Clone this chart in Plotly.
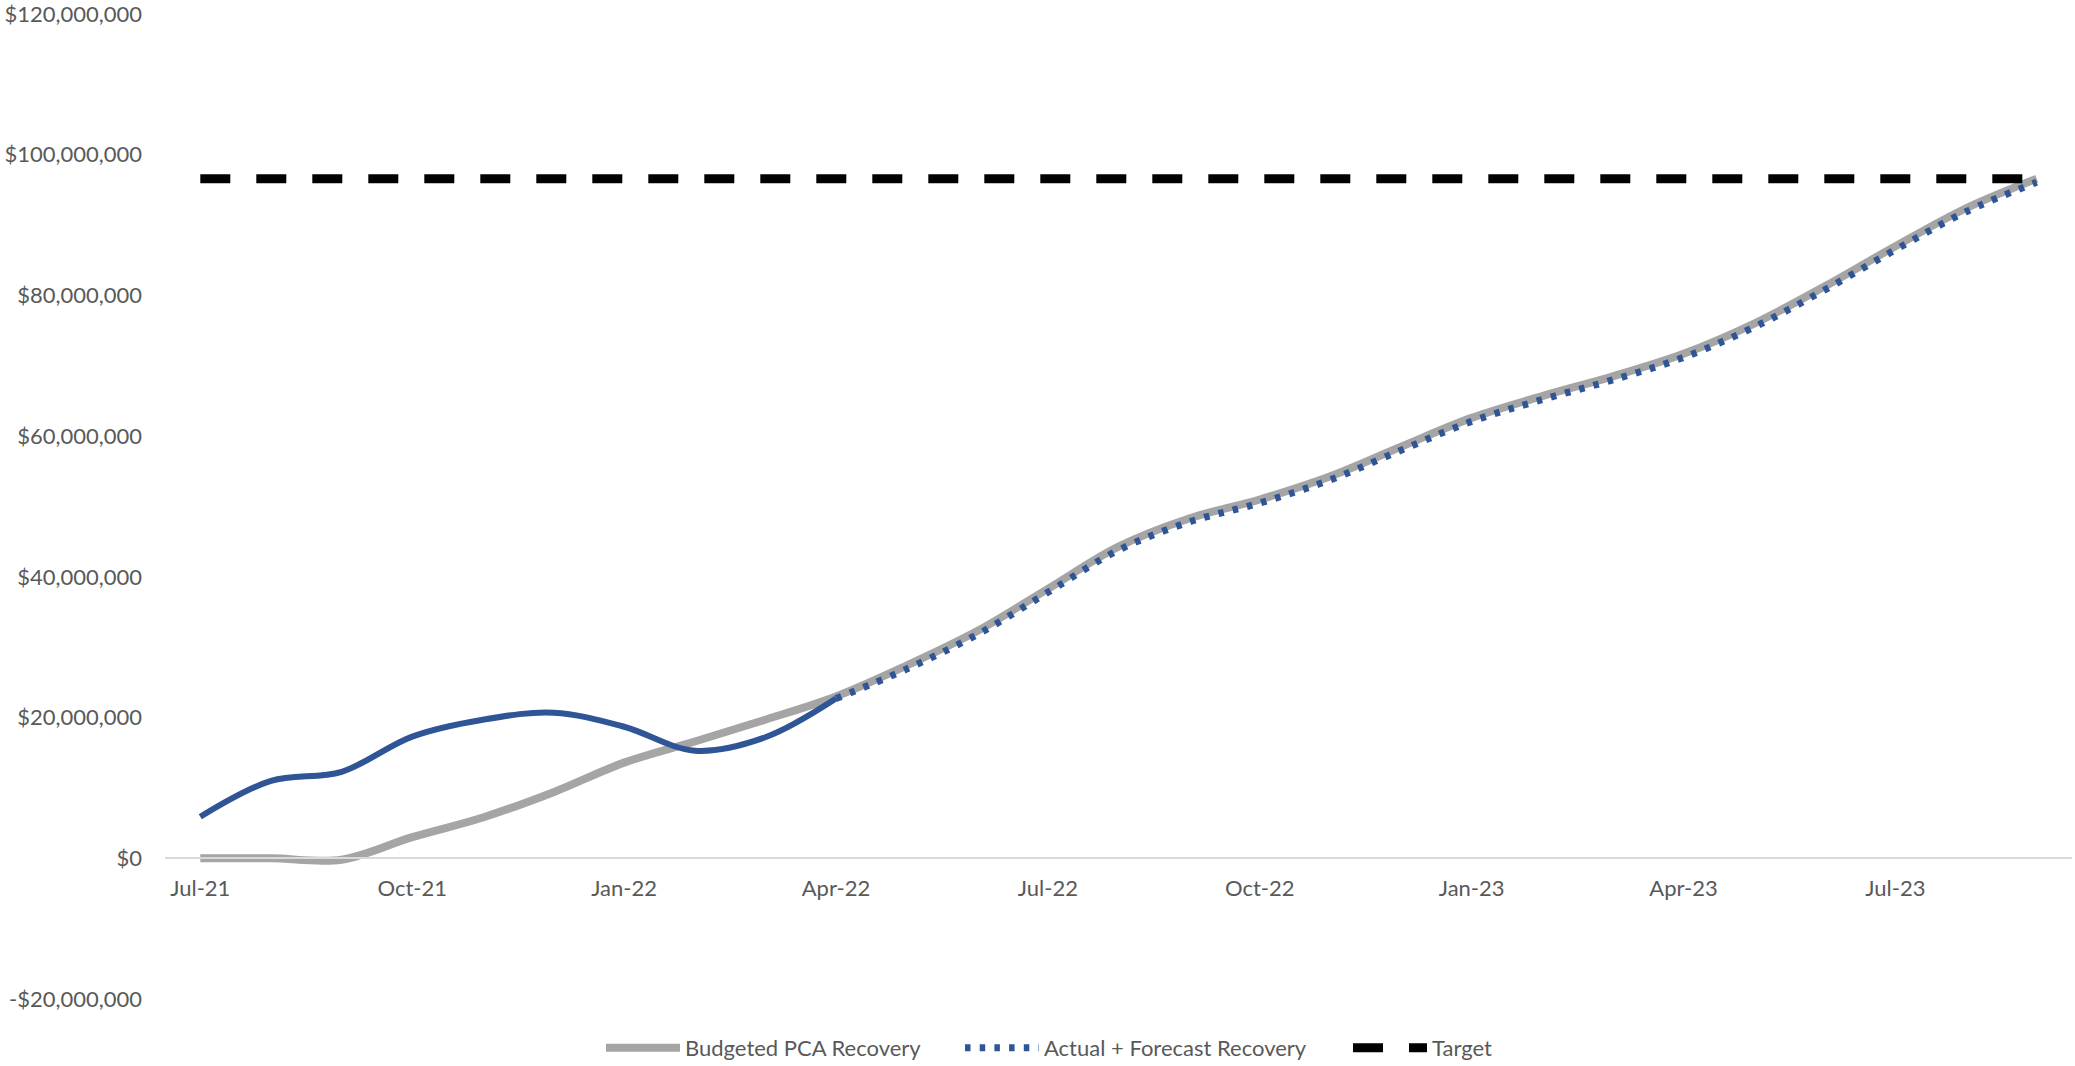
import plotly.graph_objects as go

months = ["Jul-21", "Aug-21", "Sep-21", "Oct-21", "Nov-21", "Dec-21",
          "Jan-22", "Feb-22", "Mar-22", "Apr-22", "May-22", "Jun-22",
          "Jul-22", "Aug-22", "Sep-22", "Oct-22", "Nov-22", "Dec-22",
          "Jan-23", "Feb-23", "Mar-23", "Apr-23", "May-23", "Jun-23",
          "Jul-23", "Aug-23", "Sep-23"]

budgeted = [0.0, 0.0, -0.2, 3.0, 5.8, 9.4, 13.6, 16.6, 19.7, 23.0, 27.4, 32.3,
            38.3, 44.3, 48.3, 51.0, 54.3, 58.5, 62.6, 65.7, 68.5, 71.7,
            76.0, 81.3, 87.0, 92.4, 96.6]

actual = [5.9, 11.0, 12.3, 17.3, 19.7, 20.7, 18.7, 15.3, 17.2, 22.7]

forecast = [22.7, 26.9, 31.8, 37.8, 43.8, 47.8, 50.5, 53.8, 58.0, 62.1,
            65.2, 68.0, 71.2, 75.5, 80.8, 86.5, 91.9, 96.1]

target = 96.6

tick_labels = ["Jul-21", "Oct-21", "Jan-22", "Apr-22", "Jul-22", "Oct-22",
               "Jan-23", "Apr-23", "Jul-23"]

y_ticks = [-20, 0, 20, 40, 60, 80, 100, 120]

M = 1_000_000
n_act = len(actual)
actual_y = [v * M for v in actual] + [None] * (len(months) - n_act)
forecast_y = [None] * (n_act - 1) + [v * M for v in forecast]
y_ticktext = [("-" if v < 0 else "") + "${:,}".format(abs(v) * M) for v in y_ticks]

FONT = "Lato"
TXT = "#595959"
W, H = 2075, 1066

fig = go.Figure()
fig.add_trace(go.Scatter(
    x=months, y=[v * M for v in budgeted], mode="lines",
    name="Budgeted PCA Recovery", legend="legend",
    line=dict(color="#A5A5A5", width=8, shape="spline", smoothing=1.0)))
fig.add_trace(go.Scatter(
    x=months, y=actual_y, mode="lines", showlegend=False,
    name="Actual", line=dict(color="#2F5597", width=6, shape="spline", smoothing=1.0)))
fig.add_trace(go.Scatter(
    x=months, y=forecast_y, mode="lines",
    name="Actual + Forecast Recovery", legend="legend2",
    line=dict(color="#2F5597", width=7, dash="5.5px,9.2px", shape="spline", smoothing=1.0)))
fig.add_trace(go.Scatter(
    x=months, y=[target * M] * len(months), mode="lines",
    name="Target", legend="legend3",
    line=dict(color="#000000", width=9, dash="30px,26px")))


def leg(x_px):
    return dict(orientation="h", xref="container", yref="container",
                x=x_px / W, xanchor="left", y=(H - 1048) / H, yanchor="middle",
                font=dict(family=FONT, size=22, color=TXT),
                itemwidth=74, bgcolor="rgba(0,0,0,0)", borderwidth=0)


fig.update_layout(
    width=W, height=H,
    margin=dict(l=165, r=3, t=14, b=67, autoexpand=False),
    paper_bgcolor="white", plot_bgcolor="white",
    font=dict(family=FONT, size=22, color=TXT),
    showlegend=True,
    legend=leg(601), legend2=leg(960), legend3=leg(1348),
    xaxis=dict(type="category", range=[-0.5, len(months) - 0.5],
               tickmode="array", tickvals=tick_labels, ticktext=tick_labels,
               showgrid=False, zeroline=False, automargin=False,
               showline=True, linecolor="#D9D9D9", linewidth=2,
               anchor="free", position=1 / 7,
               ticks="", ticklabelstandoff=10,
               tickfont=dict(family=FONT, size=22, color=TXT)),
    yaxis=dict(range=[-20 * M, 120.01 * M], tickmode="array",
               tickvals=[v * M for v in y_ticks], ticktext=y_ticktext,
               showgrid=False, zeroline=False, automargin=False,
               showline=False, ticks="", ticklabelstandoff=22,
               ticklabeloverflow="allow",
               tickfont=dict(family=FONT, size=22, color=TXT)),
)

fig.write_html("out.html",
               config={"displayModeBar": False},
               post_script="document.body.style.margin='0';"
                           "document.body.style.overflow='hidden';")
